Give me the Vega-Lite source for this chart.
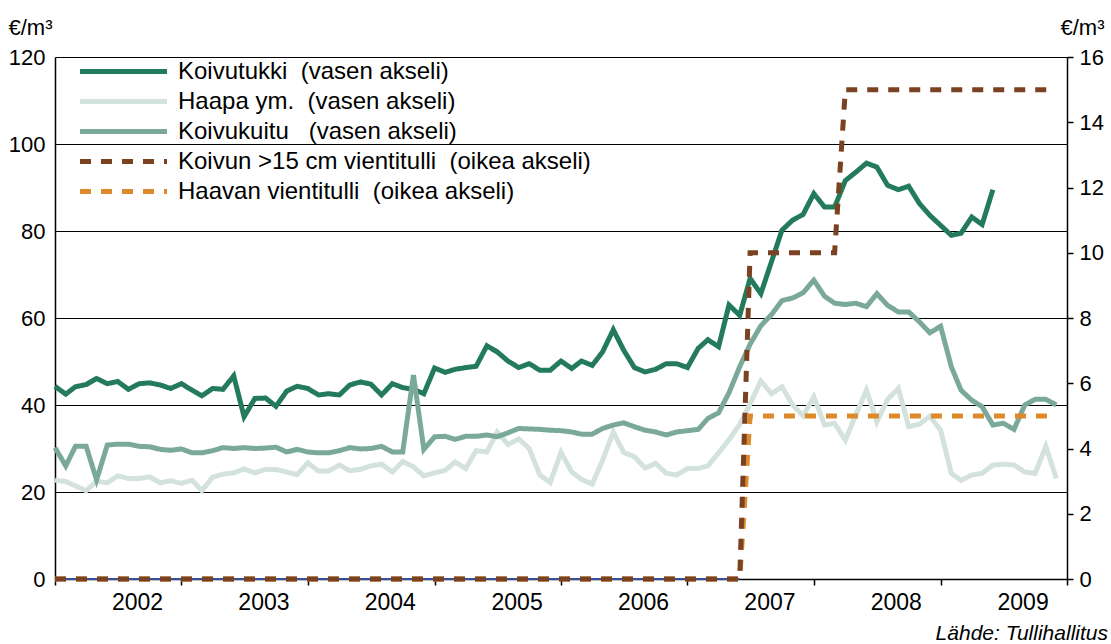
{
  "$schema": "https://vega.github.io/schema/vega-lite/v6.json",
  "width": 1012,
  "height": 522,
  "autosize": {"type": "none"},
  "padding": {"left": 55, "top": 57, "right": 44, "bottom": 65},
  "background": "white",
  "config": {
    "font": "Liberation Sans",
    "view": {"stroke": null},
    "axis": {"labelFont": "Liberation Sans", "labelFontSize": 22, "labelColor": "#000", "domainColor": "#000", "tickColor": "#000", "gridColor": "#000", "titleColor": "#000", "titleFont": "Liberation Sans"}
  },
  "title": {"text": "Lähde: Tullihallitus", "orient": "bottom", "anchor": "end", "fontSize": 21, "fontStyle": "italic", "fontWeight": "normal", "color": "#000", "dx": -41, "offset": 9, "font": "Liberation Sans"},
  "datasets": {
    "hinnat": [
      {"kk":"2002-01-01","s":"tukki","v":44.3},{"kk":"2002-02-01","s":"tukki","v":42.5},{"kk":"2002-03-01","s":"tukki","v":44.2},{"kk":"2002-04-01","s":"tukki","v":44.7},{"kk":"2002-05-01","s":"tukki","v":46.1},{"kk":"2002-06-01","s":"tukki","v":44.9},{"kk":"2002-07-01","s":"tukki","v":45.4},{"kk":"2002-08-01","s":"tukki","v":43.6},{"kk":"2002-09-01","s":"tukki","v":44.9},{"kk":"2002-10-01","s":"tukki","v":45.1},{"kk":"2002-11-01","s":"tukki","v":44.6},{"kk":"2002-12-01","s":"tukki","v":43.8},
      {"kk":"2003-01-01","s":"tukki","v":44.9},{"kk":"2003-02-01","s":"tukki","v":43.4},{"kk":"2003-03-01","s":"tukki","v":42.1},{"kk":"2003-04-01","s":"tukki","v":43.8},{"kk":"2003-05-01","s":"tukki","v":43.6},{"kk":"2003-06-01","s":"tukki","v":46.7},{"kk":"2003-07-01","s":"tukki","v":37.3},{"kk":"2003-08-01","s":"tukki","v":41.5},{"kk":"2003-09-01","s":"tukki","v":41.6},{"kk":"2003-10-01","s":"tukki","v":39.7},{"kk":"2003-11-01","s":"tukki","v":43.2},{"kk":"2003-12-01","s":"tukki","v":44.3},
      {"kk":"2004-01-01","s":"tukki","v":43.8},{"kk":"2004-02-01","s":"tukki","v":42.3},{"kk":"2004-03-01","s":"tukki","v":42.6},{"kk":"2004-04-01","s":"tukki","v":42.3},{"kk":"2004-05-01","s":"tukki","v":44.6},{"kk":"2004-06-01","s":"tukki","v":45.3},{"kk":"2004-07-01","s":"tukki","v":44.8},{"kk":"2004-08-01","s":"tukki","v":42.3},{"kk":"2004-09-01","s":"tukki","v":44.9},{"kk":"2004-10-01","s":"tukki","v":44.0},{"kk":"2004-11-01","s":"tukki","v":43.6},{"kk":"2004-12-01","s":"tukki","v":42.6},
      {"kk":"2005-01-01","s":"tukki","v":48.5},{"kk":"2005-02-01","s":"tukki","v":47.5},{"kk":"2005-03-01","s":"tukki","v":48.2},{"kk":"2005-04-01","s":"tukki","v":48.6},{"kk":"2005-05-01","s":"tukki","v":48.9},{"kk":"2005-06-01","s":"tukki","v":53.6},{"kk":"2005-07-01","s":"tukki","v":52.2},{"kk":"2005-08-01","s":"tukki","v":50.1},{"kk":"2005-09-01","s":"tukki","v":48.6},{"kk":"2005-10-01","s":"tukki","v":49.5},{"kk":"2005-11-01","s":"tukki","v":48.0},{"kk":"2005-12-01","s":"tukki","v":48.0},
      {"kk":"2006-01-01","s":"tukki","v":50.1},{"kk":"2006-02-01","s":"tukki","v":48.4},{"kk":"2006-03-01","s":"tukki","v":50.1},{"kk":"2006-04-01","s":"tukki","v":49.1},{"kk":"2006-05-01","s":"tukki","v":52.2},{"kk":"2006-06-01","s":"tukki","v":57.3},{"kk":"2006-07-01","s":"tukki","v":52.6},{"kk":"2006-08-01","s":"tukki","v":48.6},{"kk":"2006-09-01","s":"tukki","v":47.6},{"kk":"2006-10-01","s":"tukki","v":48.2},{"kk":"2006-11-01","s":"tukki","v":49.5},{"kk":"2006-12-01","s":"tukki","v":49.5},
      {"kk":"2007-01-01","s":"tukki","v":48.6},{"kk":"2007-02-01","s":"tukki","v":53.0},{"kk":"2007-03-01","s":"tukki","v":55.0},{"kk":"2007-04-01","s":"tukki","v":53.4},{"kk":"2007-05-01","s":"tukki","v":63.0},{"kk":"2007-06-01","s":"tukki","v":60.6},{"kk":"2007-07-01","s":"tukki","v":69.1},{"kk":"2007-08-01","s":"tukki","v":65.6},{"kk":"2007-09-01","s":"tukki","v":73.0},{"kk":"2007-10-01","s":"tukki","v":80.2},{"kk":"2007-11-01","s":"tukki","v":82.5},{"kk":"2007-12-01","s":"tukki","v":83.8},
      {"kk":"2008-01-01","s":"tukki","v":88.6},{"kk":"2008-02-01","s":"tukki","v":85.5},{"kk":"2008-03-01","s":"tukki","v":85.5},{"kk":"2008-04-01","s":"tukki","v":91.6},{"kk":"2008-05-01","s":"tukki","v":93.5},{"kk":"2008-06-01","s":"tukki","v":95.6},{"kk":"2008-07-01","s":"tukki","v":94.7},{"kk":"2008-08-01","s":"tukki","v":90.5},{"kk":"2008-09-01","s":"tukki","v":89.5},{"kk":"2008-10-01","s":"tukki","v":90.3},{"kk":"2008-11-01","s":"tukki","v":86.3},{"kk":"2008-12-01","s":"tukki","v":83.6},
      {"kk":"2009-01-01","s":"tukki","v":81.3},{"kk":"2009-02-01","s":"tukki","v":79.0},{"kk":"2009-03-01","s":"tukki","v":79.5},{"kk":"2009-04-01","s":"tukki","v":83.2},{"kk":"2009-05-01","s":"tukki","v":81.5},{"kk":"2009-06-01","s":"tukki","v":89.5},

      {"kk":"2002-01-01","s":"haapa","v":22.7},{"kk":"2002-02-01","s":"haapa","v":22.4},{"kk":"2002-03-01","s":"haapa","v":21.4},{"kk":"2002-04-01","s":"haapa","v":20.3},{"kk":"2002-05-01","s":"haapa","v":22.5},{"kk":"2002-06-01","s":"haapa","v":22.1},{"kk":"2002-07-01","s":"haapa","v":23.7},{"kk":"2002-08-01","s":"haapa","v":23.1},{"kk":"2002-09-01","s":"haapa","v":23.1},{"kk":"2002-10-01","s":"haapa","v":23.5},{"kk":"2002-11-01","s":"haapa","v":22.1},{"kk":"2002-12-01","s":"haapa","v":22.6},
      {"kk":"2003-01-01","s":"haapa","v":22.0},{"kk":"2003-02-01","s":"haapa","v":22.7},{"kk":"2003-03-01","s":"haapa","v":20.3},{"kk":"2003-04-01","s":"haapa","v":23.4},{"kk":"2003-05-01","s":"haapa","v":24.1},{"kk":"2003-06-01","s":"haapa","v":24.4},{"kk":"2003-07-01","s":"haapa","v":25.3},{"kk":"2003-08-01","s":"haapa","v":24.4},{"kk":"2003-09-01","s":"haapa","v":25.2},{"kk":"2003-10-01","s":"haapa","v":25.2},{"kk":"2003-11-01","s":"haapa","v":24.6},{"kk":"2003-12-01","s":"haapa","v":24.0},
      {"kk":"2004-01-01","s":"haapa","v":26.7},{"kk":"2004-02-01","s":"haapa","v":24.8},{"kk":"2004-03-01","s":"haapa","v":24.8},{"kk":"2004-04-01","s":"haapa","v":26.2},{"kk":"2004-05-01","s":"haapa","v":24.9},{"kk":"2004-06-01","s":"haapa","v":25.2},{"kk":"2004-07-01","s":"haapa","v":26.0},{"kk":"2004-08-01","s":"haapa","v":26.4},{"kk":"2004-09-01","s":"haapa","v":24.6},{"kk":"2004-10-01","s":"haapa","v":27.0},{"kk":"2004-11-01","s":"haapa","v":25.8},{"kk":"2004-12-01","s":"haapa","v":23.7},
      {"kk":"2005-01-01","s":"haapa","v":24.4},{"kk":"2005-02-01","s":"haapa","v":25.0},{"kk":"2005-03-01","s":"haapa","v":26.9},{"kk":"2005-04-01","s":"haapa","v":25.4},{"kk":"2005-05-01","s":"haapa","v":29.5},{"kk":"2005-06-01","s":"haapa","v":29.2},{"kk":"2005-07-01","s":"haapa","v":33.8},{"kk":"2005-08-01","s":"haapa","v":30.9},{"kk":"2005-09-01","s":"haapa","v":32.2},{"kk":"2005-10-01","s":"haapa","v":30.0},{"kk":"2005-11-01","s":"haapa","v":23.9},{"kk":"2005-12-01","s":"haapa","v":22.2},
      {"kk":"2006-01-01","s":"haapa","v":29.1},{"kk":"2006-02-01","s":"haapa","v":24.6},{"kk":"2006-03-01","s":"haapa","v":22.9},{"kk":"2006-04-01","s":"haapa","v":21.8},{"kk":"2006-05-01","s":"haapa","v":27.3},{"kk":"2006-06-01","s":"haapa","v":33.8},{"kk":"2006-07-01","s":"haapa","v":29.1},{"kk":"2006-08-01","s":"haapa","v":28.1},{"kk":"2006-09-01","s":"haapa","v":25.5},{"kk":"2006-10-01","s":"haapa","v":26.6},{"kk":"2006-11-01","s":"haapa","v":24.3},{"kk":"2006-12-01","s":"haapa","v":23.9},
      {"kk":"2007-01-01","s":"haapa","v":25.4},{"kk":"2007-02-01","s":"haapa","v":25.4},{"kk":"2007-03-01","s":"haapa","v":26.0},{"kk":"2007-04-01","s":"haapa","v":29.0},{"kk":"2007-05-01","s":"haapa","v":32.0},{"kk":"2007-06-01","s":"haapa","v":35.5},{"kk":"2007-07-01","s":"haapa","v":40.3},{"kk":"2007-08-01","s":"haapa","v":45.5},{"kk":"2007-09-01","s":"haapa","v":42.6},{"kk":"2007-10-01","s":"haapa","v":44.2},{"kk":"2007-11-01","s":"haapa","v":40.0},{"kk":"2007-12-01","s":"haapa","v":37.5},
      {"kk":"2008-01-01","s":"haapa","v":41.9},{"kk":"2008-02-01","s":"haapa","v":35.4},{"kk":"2008-03-01","s":"haapa","v":35.8},{"kk":"2008-04-01","s":"haapa","v":31.9},{"kk":"2008-05-01","s":"haapa","v":37.7},{"kk":"2008-06-01","s":"haapa","v":43.4},{"kk":"2008-07-01","s":"haapa","v":36.1},{"kk":"2008-08-01","s":"haapa","v":41.3},{"kk":"2008-09-01","s":"haapa","v":43.8},{"kk":"2008-10-01","s":"haapa","v":35.0},{"kk":"2008-11-01","s":"haapa","v":35.6},{"kk":"2008-12-01","s":"haapa","v":37.4},
      {"kk":"2009-01-01","s":"haapa","v":34.2},{"kk":"2009-02-01","s":"haapa","v":24.3},{"kk":"2009-03-01","s":"haapa","v":22.7},{"kk":"2009-04-01","s":"haapa","v":23.9},{"kk":"2009-05-01","s":"haapa","v":24.3},{"kk":"2009-06-01","s":"haapa","v":26.2},{"kk":"2009-07-01","s":"haapa","v":26.4},{"kk":"2009-08-01","s":"haapa","v":26.2},{"kk":"2009-09-01","s":"haapa","v":24.6},{"kk":"2009-10-01","s":"haapa","v":24.3},{"kk":"2009-11-01","s":"haapa","v":30.5},{"kk":"2009-12-01","s":"haapa","v":23.1},

      {"kk":"2002-01-01","s":"kuitu","v":30.2},{"kk":"2002-02-01","s":"kuitu","v":26.0},{"kk":"2002-03-01","s":"kuitu","v":30.5},{"kk":"2002-04-01","s":"kuitu","v":30.5},{"kk":"2002-05-01","s":"kuitu","v":22.8},{"kk":"2002-06-01","s":"kuitu","v":30.8},{"kk":"2002-07-01","s":"kuitu","v":31.0},{"kk":"2002-08-01","s":"kuitu","v":31.0},{"kk":"2002-09-01","s":"kuitu","v":30.5},{"kk":"2002-10-01","s":"kuitu","v":30.4},{"kk":"2002-11-01","s":"kuitu","v":29.8},{"kk":"2002-12-01","s":"kuitu","v":29.6},
      {"kk":"2003-01-01","s":"kuitu","v":29.9},{"kk":"2003-02-01","s":"kuitu","v":29.0},{"kk":"2003-03-01","s":"kuitu","v":29.0},{"kk":"2003-04-01","s":"kuitu","v":29.5},{"kk":"2003-05-01","s":"kuitu","v":30.2},{"kk":"2003-06-01","s":"kuitu","v":30.0},{"kk":"2003-07-01","s":"kuitu","v":30.2},{"kk":"2003-08-01","s":"kuitu","v":30.0},{"kk":"2003-09-01","s":"kuitu","v":30.1},{"kk":"2003-10-01","s":"kuitu","v":30.3},{"kk":"2003-11-01","s":"kuitu","v":29.2},{"kk":"2003-12-01","s":"kuitu","v":29.8},
      {"kk":"2004-01-01","s":"kuitu","v":29.2},{"kk":"2004-02-01","s":"kuitu","v":29.0},{"kk":"2004-03-01","s":"kuitu","v":29.0},{"kk":"2004-04-01","s":"kuitu","v":29.5},{"kk":"2004-05-01","s":"kuitu","v":30.2},{"kk":"2004-06-01","s":"kuitu","v":29.9},{"kk":"2004-07-01","s":"kuitu","v":30.0},{"kk":"2004-08-01","s":"kuitu","v":30.5},{"kk":"2004-09-01","s":"kuitu","v":29.2},{"kk":"2004-10-01","s":"kuitu","v":29.2},{"kk":"2004-11-01","s":"kuitu","v":46.9},{"kk":"2004-12-01","s":"kuitu","v":29.8},
      {"kk":"2005-01-01","s":"kuitu","v":32.7},{"kk":"2005-02-01","s":"kuitu","v":32.8},{"kk":"2005-03-01","s":"kuitu","v":32.1},{"kk":"2005-04-01","s":"kuitu","v":32.8},{"kk":"2005-05-01","s":"kuitu","v":32.8},{"kk":"2005-06-01","s":"kuitu","v":33.1},{"kk":"2005-07-01","s":"kuitu","v":32.7},{"kk":"2005-08-01","s":"kuitu","v":33.6},{"kk":"2005-09-01","s":"kuitu","v":34.6},{"kk":"2005-10-01","s":"kuitu","v":34.5},{"kk":"2005-11-01","s":"kuitu","v":34.4},{"kk":"2005-12-01","s":"kuitu","v":34.2},
      {"kk":"2006-01-01","s":"kuitu","v":34.1},{"kk":"2006-02-01","s":"kuitu","v":33.8},{"kk":"2006-03-01","s":"kuitu","v":33.3},{"kk":"2006-04-01","s":"kuitu","v":33.3},{"kk":"2006-05-01","s":"kuitu","v":34.6},{"kk":"2006-06-01","s":"kuitu","v":35.4},{"kk":"2006-07-01","s":"kuitu","v":35.9},{"kk":"2006-08-01","s":"kuitu","v":35.0},{"kk":"2006-09-01","s":"kuitu","v":34.2},{"kk":"2006-10-01","s":"kuitu","v":33.8},{"kk":"2006-11-01","s":"kuitu","v":33.1},{"kk":"2006-12-01","s":"kuitu","v":33.8},
      {"kk":"2007-01-01","s":"kuitu","v":34.1},{"kk":"2007-02-01","s":"kuitu","v":34.4},{"kk":"2007-03-01","s":"kuitu","v":36.9},{"kk":"2007-04-01","s":"kuitu","v":38.2},{"kk":"2007-05-01","s":"kuitu","v":42.8},{"kk":"2007-06-01","s":"kuitu","v":48.8},{"kk":"2007-07-01","s":"kuitu","v":54.0},{"kk":"2007-08-01","s":"kuitu","v":58.2},{"kk":"2007-09-01","s":"kuitu","v":60.8},{"kk":"2007-10-01","s":"kuitu","v":64.0},{"kk":"2007-11-01","s":"kuitu","v":64.6},{"kk":"2007-12-01","s":"kuitu","v":65.8},
      {"kk":"2008-01-01","s":"kuitu","v":68.7},{"kk":"2008-02-01","s":"kuitu","v":65.0},{"kk":"2008-03-01","s":"kuitu","v":63.4},{"kk":"2008-04-01","s":"kuitu","v":63.1},{"kk":"2008-05-01","s":"kuitu","v":63.4},{"kk":"2008-06-01","s":"kuitu","v":62.6},{"kk":"2008-07-01","s":"kuitu","v":65.6},{"kk":"2008-08-01","s":"kuitu","v":62.9},{"kk":"2008-09-01","s":"kuitu","v":61.4},{"kk":"2008-10-01","s":"kuitu","v":61.4},{"kk":"2008-11-01","s":"kuitu","v":59.1},{"kk":"2008-12-01","s":"kuitu","v":56.6},
      {"kk":"2009-01-01","s":"kuitu","v":58.1},{"kk":"2009-02-01","s":"kuitu","v":48.8},{"kk":"2009-03-01","s":"kuitu","v":43.4},{"kk":"2009-04-01","s":"kuitu","v":41.1},{"kk":"2009-05-01","s":"kuitu","v":39.6},{"kk":"2009-06-01","s":"kuitu","v":35.4},{"kk":"2009-07-01","s":"kuitu","v":35.8},{"kk":"2009-08-01","s":"kuitu","v":34.4},{"kk":"2009-09-01","s":"kuitu","v":40.0},{"kk":"2009-10-01","s":"kuitu","v":41.3},{"kk":"2009-11-01","s":"kuitu","v":41.3},{"kk":"2009-12-01","s":"kuitu","v":40.0}
    ],
    "nolla": [
      {"kk":"2002-01-01","v":0},{"kk":"2007-06-01","v":0}
    ],
    "tullit": [
      {"kk":"2002-01-01","s":"haapatulli","v":0},{"kk":"2007-06-01","s":"haapatulli","v":0},{"kk":"2007-07-01","s":"haapatulli","v":5},{"kk":"2009-12-01","s":"haapatulli","v":5},
      {"kk":"2002-01-01","s":"koivutulli","v":0},{"kk":"2007-06-01","s":"koivutulli","v":0},{"kk":"2007-07-01","s":"koivutulli","v":10},{"kk":"2008-03-01","s":"koivutulli","v":10},{"kk":"2008-04-01","s":"koivutulli","v":15},{"kk":"2009-12-01","s":"koivutulli","v":15}
    ]
  },
  "layer": [
    {
      "layer": [
        {
          "data": {"name": "hinnat"},
          "mark": {"type": "line", "strokeCap": "butt"},
          "encoding": {
            "x": {
              "field": "kk", "type": "temporal",
              "scale": {"domain": ["2002-01-01", "2010-01-01"]},
              "axis": {
                "title": null, "grid": false,
                "values": [{"year":2002,"month":1,"date":1},{"year":2003,"month":1,"date":1},{"year":2004,"month":1,"date":1},{"year":2005,"month":1,"date":1},{"year":2006,"month":1,"date":1},{"year":2007,"month":1,"date":1},{"year":2008,"month":1,"date":1},{"year":2009,"month":1,"date":1},{"year":2010,"month":1,"date":1}],
                "labelExpr": "year(datum.value) >= 2010 ? '' : timeFormat(datum.value, '%Y')",
                "labelOffset": 82, "labelFontSize": 23, "tickSize": 6, "tickWidth": 1.5, "labelPadding": 6,
                "domainWidth": 1.5, "labelFlush": false, "labelOverlap": false, "labelBound": false
              }
            },
            "y": {
              "field": "v", "type": "quantitative",
              "scale": {"domain": [0, 120], "nice": false},
              "axis": {
                "values": [0, 20, 40, 60, 80, 100, 120],
                "grid": true, "gridWidth": 1.2, "ticks": false, "labelPadding": 10,
                "domainWidth": 1.5,
                "title": "€/m³", "titleAngle": 0, "titleAlign": "left", "titleBaseline": "alphabetic",
                "titleX": -47, "titleY": -23, "titleFontSize": 22, "titleFontWeight": "normal"
              }
            },
            "color": {
              "field": "s", "type": "nominal",
              "scale": {"domain": ["tukki", "haapa", "kuitu", "koivutulli", "haapatulli"], "range": ["#237b5b", "#d3e3db", "#7aa999", "#7b4222", "#dd8a2d"]},
              "legend": {
                "orient": "none", "legendX": 55, "legendY": 1, "title": null,
                "symbolType": "M-4,0H4", "symbolSize": 473, "labelFontSize": 24, "labelFont": "Liberation Sans",
                "labelColor": "#000", "labelOffset": 41, "rowPadding": 4, "padding": 0, "labelLimit": 700,
                "labelExpr": "{'tukki': 'Koivutukki\u00a0 (vasen akseli)', 'haapa': 'Haapa ym.\u00a0 (vasen akseli)', 'kuitu': 'Koivukuitu\u00a0\u00a0 (vasen akseli)', 'koivutulli': 'Koivun >15 cm vientitulli\u00a0 (oikea akseli)', 'haapatulli': 'Haavan vientitulli\u00a0 (oikea akseli)'}[datum.label]"
              }
            },
            "strokeDash": {
              "field": "s", "type": "nominal",
              "scale": {"domain": ["tukki", "haapa", "kuitu", "koivutulli", "haapatulli"], "range": [[1, 0], [1, 0], [1, 0], [11, 10], [11, 10]]}
            },
            "strokeWidth": {
              "field": "s", "type": "nominal",
              "scale": {"domain": ["tukki", "haapa", "kuitu", "koivutulli", "haapatulli"], "range": [5, 5, 3.5, 4, 4]}
            }
          }
        },
        {
          "data": {"name": "nolla"},
          "mark": {"type": "line", "color": "#3c4d9c", "strokeWidth": 2},
          "encoding": {
            "x": {"field": "kk", "type": "temporal"},
            "y": {"field": "v", "type": "quantitative"}
          }
        }
      ]
    },
    {
      "data": {"name": "tullit"},
      "mark": {"type": "line", "strokeCap": "butt"},
      "encoding": {
        "x": {"field": "kk", "type": "temporal"},
        "y": {
          "field": "v", "type": "quantitative",
          "scale": {"domain": [0, 16], "nice": false},
          "axis": {
            "orient": "right", "values": [0, 2, 4, 6, 8, 10, 12, 14, 16],
            "grid": false, "tickSize": 6, "tickWidth": 1.5, "labelPadding": 6, "domainWidth": 1.5,
            "title": "€/m³", "titleAngle": 0, "titleAlign": "left", "titleBaseline": "alphabetic",
            "titleX": -7, "titleY": -23, "titleFontSize": 22, "titleFontWeight": "normal"
          }
        },
        "color": {"field": "s", "type": "nominal"},
        "strokeDash": {"field": "s", "type": "nominal"},
        "strokeWidth": {"field": "s", "type": "nominal"}
      }
    }
  ],
  "resolve": {"scale": {"y": "independent"}}
}
